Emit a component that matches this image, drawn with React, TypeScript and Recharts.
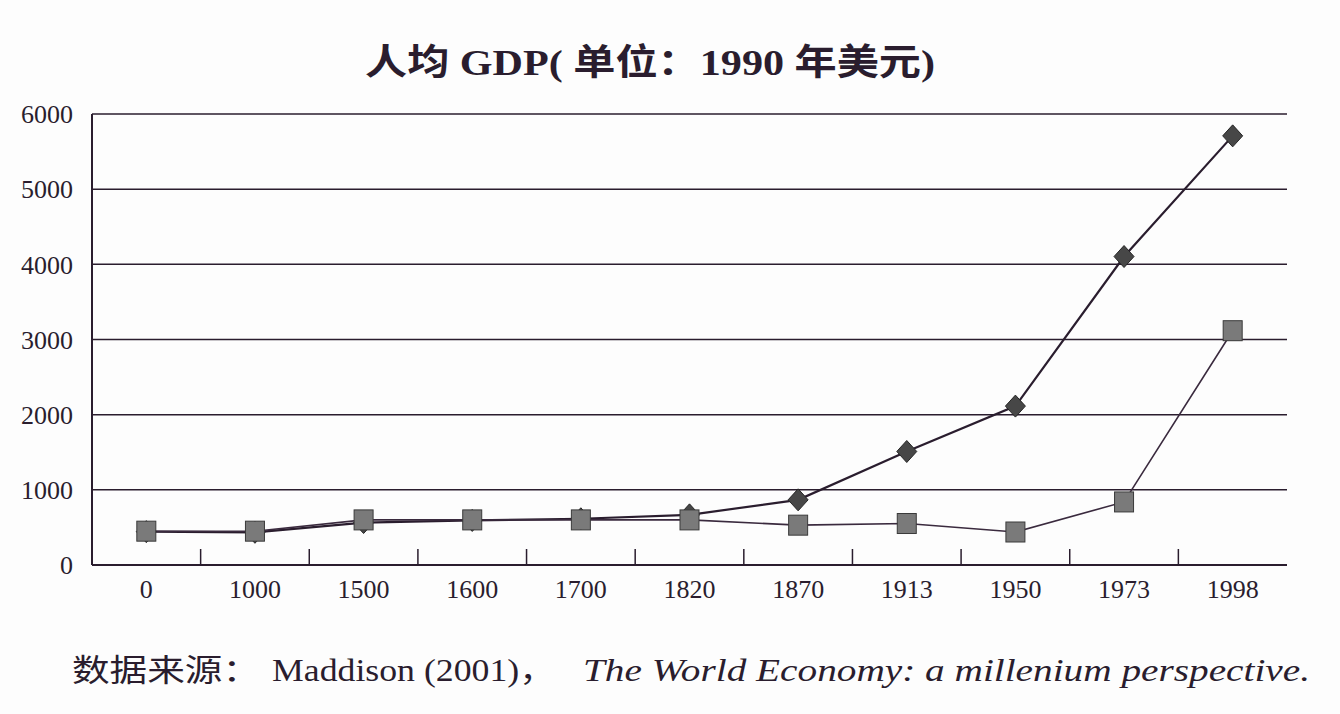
import React from 'react';
import { LineChart, Line, XAxis, YAxis, CartesianGrid } from 'recharts';

const periods = ['0', '1000', '1500', '1600', '1700', '1820', '1870', '1913', '1950', '1973', '1998'];
const worldGdp = [444, 435, 565, 593, 615, 667, 867, 1510, 2114, 4104, 5709];
const chinaGdp = [450, 450, 600, 600, 600, 600, 530, 552, 439, 839, 3117];
const yTicks = [0, 1000, 2000, 3000, 4000, 5000, 6000];
const titleText = '人均 GDP( 单位：1990 年美元)';
const sourceCn = '数据来源：';
const sourceAuthor = 'Maddison (2001)，';
const sourceBook = 'The World Economy: a millenium perspective.';

const data = periods.map((p, i) => ({ idx: i, period: p, world: worldGdp[i], china: chinaGdp[i] }));
const xTicks: number[] = [];
periods.forEach((_, i) => {
  xTicks.push(i);
  if (i < periods.length - 1) xTicks.push(i + 0.5);
});

const INK = '#2a1d2e';
const SERIF = '"Liberation Serif", "DejaVu Serif", serif';
const CJK = '"Liberation Serif", "Noto Sans CJK SC", serif';

const XTick = (props: any) => {
  const { x, y, payload } = props;
  const axisY = y - 8;
  const v = payload.value;
  if (Number.isInteger(v)) {
    return (
      <text x={x} y={axisY + 33} textAnchor="middle" fontSize={26} fontFamily={SERIF} fill={INK}>
        {periods[v]}
      </text>
    );
  }
  return <line x1={x} x2={x} y1={axisY} y2={axisY - 16} stroke={INK} strokeWidth={1.5} />;
};

const DiamondDot = (props: any) => {
  const { cx, cy, index } = props;
  if (cx == null || cy == null) return <g key={`d-${index}`} />;
  return (
    <path
      key={`d-${index}`}
      d={`M${cx},${cy - 11} L${cx + 10},${cy} L${cx},${cy + 11} L${cx - 10},${cy} Z`}
      fill="#474747"
      stroke="#262626"
      strokeWidth={1}
    />
  );
};

const SquareDot = (props: any) => {
  const { cx, cy, index } = props;
  if (cx == null || cy == null) return <g key={`s-${index}`} />;
  return (
    <rect
      key={`s-${index}`}
      x={cx - 9.5}
      y={cy - 10}
      width={19}
      height={20}
      fill="#7a7a7a"
      stroke="#3a3a3a"
      strokeWidth={1}
    />
  );
};

export default function App() {
  return (
    <div style={{ position: 'absolute', left: 0, top: 0, width: 1340, height: 714, background: '#fdfdfd' }}>
      <LineChart
        width={1340}
        height={714}
        data={data}
        margin={{ top: 114, right: 53, bottom: 109, left: 0 }}
      >
        <CartesianGrid vertical={false} stroke={INK} strokeWidth={1.5} />
        <XAxis
          dataKey="idx"
          type="number"
          domain={[-0.5, 10.5]}
          ticks={xTicks}
          interval={0}
          tickLine={false}
          tickSize={6}
          tickMargin={2}
          axisLine={{ stroke: INK, strokeWidth: 2 }}
          tick={<XTick />}
          height={40}
        />
        <YAxis
          type="number"
          domain={[0, 6000]}
          ticks={yTicks}
          interval={0}
          tickLine={false}
          tickSize={6}
          tickMargin={13}
          axisLine={{ stroke: INK, strokeWidth: 2 }}
          tick={{ fontSize: 26, fontFamily: SERIF, fill: INK }}
          width={92}
        />
        <YAxis
          yAxisId="r"
          orientation="right"
          type="number"
          domain={[0, 6000]}
          tick={false}
          tickLine={false}
          axisLine={{ stroke: INK, strokeWidth: 2 }}
          width={0}
        />
        <Line
          dataKey="world"
          stroke={INK}
          strokeWidth={2.2}
          dot={DiamondDot}
          activeDot={false}
          isAnimationActive={false}
        />
        <Line
          dataKey="china"
          stroke="#3a2a3e"
          strokeWidth={1.6}
          dot={SquareDot}
          activeDot={false}
          isAnimationActive={false}
        />
      </LineChart>
      <svg
        width={1340}
        height={714}
        style={{ position: 'absolute', left: 0, top: 0, pointerEvents: 'none' }}
      >
        <text
          x={365}
          y={75}
          fontSize={36}
          fontWeight="bold"
          fontFamily={CJK}
          fill={INK}
          textLength={570}
          lengthAdjust="spacingAndGlyphs"
        >
          {titleText}
        </text>
        <text x={72} y={681} fontSize={31} fontFamily={CJK} fill={INK} textLength={188} lengthAdjust="spacingAndGlyphs">
          {sourceCn}
        </text>
        <text x={272} y={681} fontSize={31} fontFamily={CJK} fill={INK} textLength={283} lengthAdjust="spacingAndGlyphs">
          {sourceAuthor}
        </text>
        <text
          x={583}
          y={681}
          fontSize={31}
          fontStyle="italic"
          fontFamily={SERIF}
          fill={INK}
          textLength={727}
          lengthAdjust="spacingAndGlyphs"
        >
          {sourceBook}
        </text>
      </svg>
    </div>
  );
}
